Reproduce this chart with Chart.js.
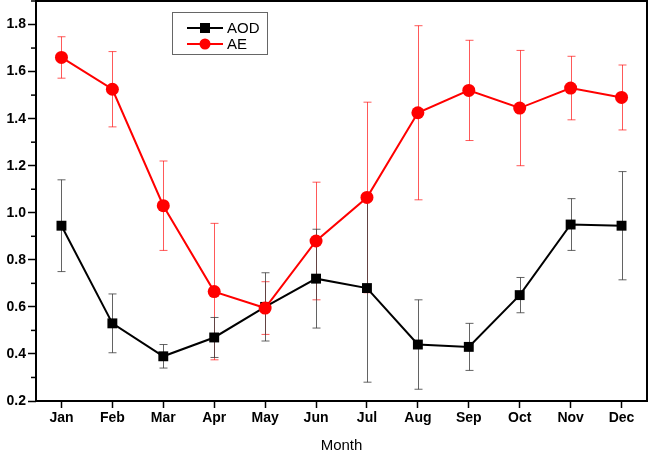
<!DOCTYPE html>
<html>
<head>
<meta charset="utf-8">
<script src="https://cdn.jsdelivr.net/npm/chart.js@4"></script>
<style>
  html, body { margin: 0; padding: 0; background: #fff; }
  #wrap { width: 650px; height: 455px; position: relative; }
</style>
</head>
<body>
<div id="wrap"><canvas id="chart"></canvas></div>
<script>
const months = ['Jan', 'Feb', 'Mar', 'Apr', 'May', 'Jun', 'Jul', 'Aug', 'Sep', 'Oct', 'Nov', 'Dec'];

const aod = [0.945, 0.53, 0.39, 0.47, 0.60, 0.72, 0.68, 0.44, 0.43, 0.65, 0.95, 0.945];
const aodErr = [0.195, 0.125, 0.05, 0.085, 0.145, 0.21, 0.40, 0.19, 0.10, 0.075, 0.11, 0.23];

const ae = [1.66, 1.525, 1.03, 0.665, 0.595, 0.88, 1.065, 1.425, 1.52, 1.445, 1.53, 1.49];
const aeErr = [0.088, 0.16, 0.19, 0.29, 0.112, 0.25, 0.405, 0.37, 0.213, 0.245, 0.135, 0.138];

const yTicks = [0.2, 0.4, 0.6, 0.8, 1.0, 1.2, 1.4, 1.6, 1.8];
const yMinorTicks = [0.3, 0.5, 0.7, 0.9, 1.1, 1.3, 1.5, 1.7, 1.9];

const FONT = '"Liberation Sans", Arial, sans-serif';

// error bars drawn under the lines, using the chart's own scales
const errorBars = {
    id: 'errorBars',
    beforeDatasetsDraw(chart) {
        const { ctx, scales: { x, y } } = chart;
        const sets = [
            { vals: ae, err: aeErr, color: 'rgba(255,0,0,0.65)' },
            { vals: aod, err: aodErr, color: 'rgba(60,60,60,0.8)' }
        ];
        ctx.save();
        ctx.lineWidth = 1;
        sets.forEach(s => {
            ctx.strokeStyle = s.color;
            s.vals.forEach((v, i) => {
                const px = Math.round(x.getPixelForValue(i)) + 0.5;
                const top = y.getPixelForValue(v + s.err[i]);
                const bot = y.getPixelForValue(v - s.err[i]);
                ctx.beginPath();
                ctx.moveTo(px, top);
                ctx.lineTo(px, bot);
                ctx.moveTo(px - 4, top);
                ctx.lineTo(px + 4, top);
                ctx.moveTo(px - 4, bot);
                ctx.lineTo(px + 4, bot);
                ctx.stroke();
            });
        });
        ctx.restore();
    }
};

// frame, minor ticks and in-plot legend
const frame = {
    id: 'frame',
    afterDraw(chart) {
        const { ctx, chartArea: a, scales: { y } } = chart;
        ctx.save();
        ctx.strokeStyle = '#000';
        ctx.lineWidth = 2;
        ctx.strokeRect(a.left, a.top, a.right - a.left, a.bottom - a.top);

        ctx.lineWidth = 1.5;
        yMinorTicks.forEach(v => {
            const py = y.getPixelForValue(v);
            ctx.beginPath();
            ctx.moveTo(a.left - 5, py);
            ctx.lineTo(a.left, py);
            ctx.stroke();
        });

        // legend
        const lx = 172, ly = 12, lw = 95, lh = 42;
        ctx.fillStyle = '#fff';
        ctx.fillRect(lx, ly, lw, lh);
        ctx.strokeStyle = '#666';
        ctx.lineWidth = 1;
        ctx.strokeRect(lx + 0.5, ly + 0.5, lw, lh);
        const items = chart.data.datasets.slice().sort((p, q) => p.legendIdx - q.legendIdx);
        items.forEach((ds, k) => {
            const cy = ly + 16 + k * 16;
            ctx.strokeStyle = ds.borderColor;
            ctx.lineWidth = 2;
            ctx.beginPath();
            ctx.moveTo(lx + 15, cy);
            ctx.lineTo(lx + 51, cy);
            ctx.stroke();
            ctx.fillStyle = ds.backgroundColor;
            if (ds.pointStyle === 'rect') {
                ctx.fillRect(lx + 33 - 5, cy - 5, 10, 10);
            } else {
                ctx.beginPath();
                ctx.arc(lx + 33, cy, 5.5, 0, Math.PI * 2);
                ctx.fill();
            }
            ctx.fillStyle = '#000';
            ctx.font = '15px ' + FONT;
            ctx.textBaseline = 'middle';
            ctx.textAlign = 'left';
            ctx.fillText(ds.label, lx + 55, cy + 1);
        });
        ctx.restore();
    }
};

const ctx = document.getElementById('chart').getContext('2d');
new Chart(ctx, {
    type: 'line',
    data: {
        labels: months,
        datasets: [
            {
                label: 'AE',
                data: ae,
                legendIdx: 1,
                borderColor: '#ff0000',
                backgroundColor: '#ff0000',
                borderWidth: 2,
                pointStyle: 'circle',
                pointRadius: 6.5,
                pointBorderWidth: 0,
                tension: 0,
                order: 0
            },
            {
                label: 'AOD',
                data: aod,
                legendIdx: 0,
                borderColor: '#000000',
                backgroundColor: '#000000',
                borderWidth: 2,
                pointStyle: 'rect',
                pointRadius: 7,
                pointBorderWidth: 0,
                tension: 0,
                order: 1
            }
        ]
    },
    options: {
        responsive: true,
        maintainAspectRatio: false,
        animation: false,
        layout: { autoPadding: false, padding: { left: 0, right: 3, top: 1, bottom: 0 } },
        plugins: {
            legend: { display: false },
            tooltip: { enabled: false }
        },
        scales: {
            x: {
                offset: true,
                grid: {
                    display: true,
                    drawOnChartArea: false,
                    offset: false,
                    tickLength: 7,
                    tickColor: '#000',
                    tickWidth: 1.5
                },
                border: { display: false },
                ticks: {
                    color: '#000',
                    padding: 2,
                    maxRotation: 0,
                    autoSkip: false,
                    font: { family: FONT, size: 14, weight: 'bold' }
                },
                title: {
                    display: true,
                    text: 'Month',
                    color: '#000',
                    padding: { top: 8, bottom: 0 },
                    font: { family: FONT, size: 15 }
                },
                afterFit: axis => {
                    axis.height = 54;
                    axis.paddingLeft = 0;
                    axis.paddingRight = 0;
                }
            },
            y: {
                min: 0.2,
                max: 1.9,
                grid: {
                    display: true,
                    drawOnChartArea: false,
                    tickLength: 8,
                    tickColor: '#000',
                    tickWidth: 1.5
                },
                border: { display: false },
                afterBuildTicks: axis => { axis.ticks = yTicks.map(v => ({ value: v })); },
                ticks: {
                    color: '#000',
                    padding: 2,
                    callback: v => v.toFixed(1),
                    font: { family: FONT, size: 14, weight: 'bold' }
                },
                afterFit: axis => {
                    axis.width = 36;
                    axis.paddingTop = 0;
                    axis.paddingBottom = 0;
                }
            }
        }
    },
    plugins: [errorBars, frame]
});
</script>
</body>
</html>
